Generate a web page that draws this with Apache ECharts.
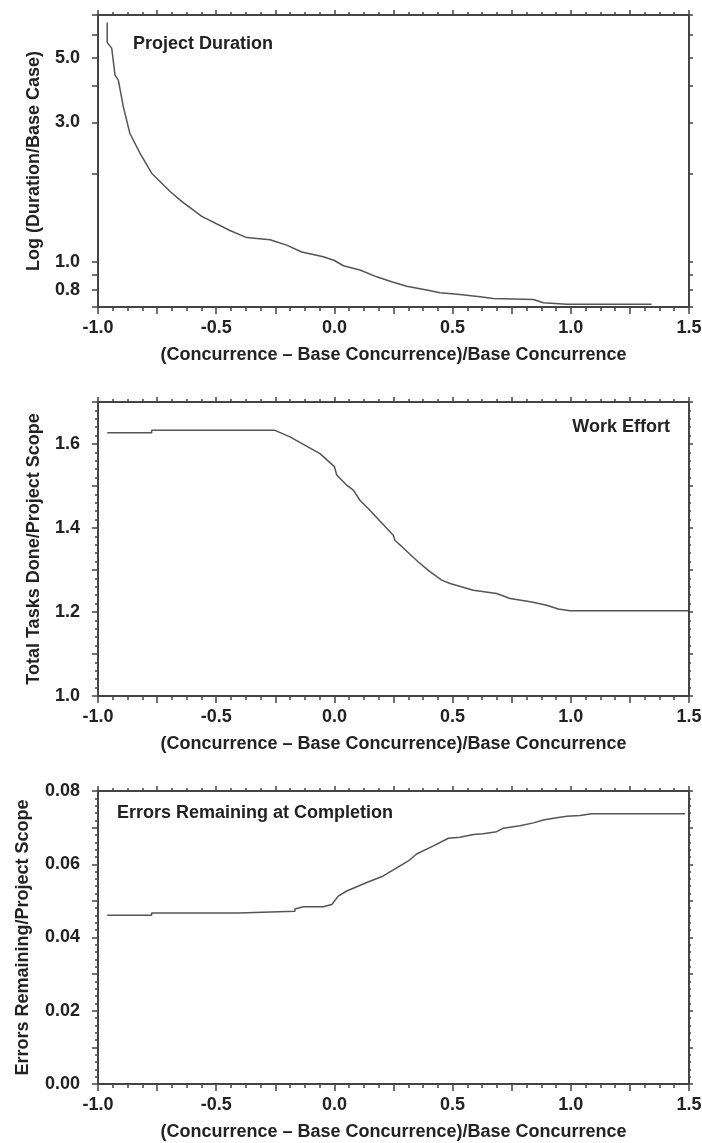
<!DOCTYPE html>
<html>
<head>
<meta charset="utf-8">
<script src="https://cdn.jsdelivr.net/npm/echarts@6/dist/echarts.min.js"></script>
<style>
  html, body { margin: 0; padding: 0; background: #fff; }
  #main { width: 702px; height: 1143px; }
</style>
</head>
<body>
<div id="main"></div>
<script>
// Project Duration (log scale)
var durX = [-0.961, -0.961, -0.942, -0.928, -0.914, -0.893, -0.865, -0.822, -0.773, -0.695, -0.646, -0.561, -0.442, -0.371, -0.272, -0.202, -0.138, -0.047, 0.0, 0.038, 0.108, 0.179, 0.242, 0.306, 0.390, 0.447, 0.531, 0.616, 0.672, 0.842, 0.884, 0.983, 1.342];
var durY = [6.6, 5.63, 5.39, 4.36, 4.19, 3.40, 2.75, 2.35, 2.01, 1.74, 1.61, 1.43, 1.28, 1.21, 1.19, 1.14, 1.08, 1.04, 1.01, 0.969, 0.937, 0.888, 0.854, 0.825, 0.80, 0.783, 0.773, 0.759, 0.749, 0.743, 0.724, 0.716, 0.716];

// Work Effort
var effX = [-0.961, -0.773, -0.773, -0.254, -0.188, -0.061, 0.0, 0.010, 0.052, 0.080, 0.108, 0.144, 0.249, 0.256, 0.355, 0.404, 0.454, 0.489, 0.588, 0.686, 0.743, 0.835, 0.898, 0.947, 0.997, 1.497];
var effY = [1.627, 1.627, 1.633, 1.633, 1.617, 1.577, 1.546, 1.526, 1.502, 1.490, 1.466, 1.446, 1.383, 1.371, 1.319, 1.296, 1.276, 1.268, 1.252, 1.244, 1.232, 1.224, 1.216, 1.207, 1.203, 1.203];

// Errors Remaining at Completion
var errX = [-0.961, -0.773, -0.773, -0.406, -0.406, -0.167, -0.167, -0.131, -0.047, -0.011, 0.0165, 0.052, 0.137, 0.207, 0.313, 0.348, 0.419, 0.482, 0.531, 0.588, 0.630, 0.686, 0.714, 0.785, 0.842, 0.884, 0.933, 0.983, 1.039, 1.088, 1.483];
var errY = [0.0461, 0.0461, 0.0467, 0.0467, 0.0472, 0.0472, 0.0478, 0.0484, 0.0484, 0.0490, 0.0513, 0.0527, 0.0550, 0.0568, 0.0609, 0.0628, 0.0650, 0.0671, 0.0674, 0.0681, 0.0683, 0.0689, 0.0698, 0.0705, 0.0713, 0.0721, 0.0726, 0.0731, 0.0733, 0.0738, 0.0738];

var durLabels = [0.8, 1, 3, 5];
var durTicks = [0.7, 0.8, 0.9, 1, 2, 3, 4, 5, 6, 7];

var xName = '(Concurrence \u2013 Base Concurrence)/Base Concurrence';
var FONT = 'Liberation Sans, Arial, Helvetica, sans-serif';
var AX = '#444';
var TXT = '#222';

function pairs(xs, ys) {
    var out = [];
    for (var i = 0; i < xs.length; i++) {
        out.push([xs[i], ys[i]]);
    }
    return out;
}

var lblStyle = { fontSize: 18, fontWeight: 'bold', color: TXT, fontFamily: FONT };

function xAxes(gi) {
    var bottom = {
        gridIndex: gi, type: 'value', min: -1, max: 1.5, interval: 0.25, position: 'bottom',
        axisLine: { show: true, onZero: false, lineStyle: { color: AX, width: 2 } },
        axisTick: { show: true, inside: false, length: 7, lineStyle: { color: AX, width: 1.5 } },
        minorTick: { show: true, splitNumber: 4, length: 4, lineStyle: { color: AX, width: 1.5 } },
        splitLine: { show: false },
        axisLabel: {
            margin: 12, fontSize: 18, fontWeight: 'bold', color: TXT, fontFamily: FONT,
            formatter: function (v) {
                return Math.abs(v * 2 - Math.round(v * 2)) < 1e-6 ? v.toFixed(1) : '';
            }
        },
        name: xName, nameLocation: 'middle', nameGap: 39,
        nameTextStyle: lblStyle
    };
    var top = {
        gridIndex: gi, type: 'value', min: -1, max: 1.5, interval: 0.25, position: 'top',
        axisLine: { show: true, onZero: false, lineStyle: { color: AX, width: 2 } },
        axisTick: { show: true, inside: false, length: 5, lineStyle: { color: AX, width: 1.5 } },
        minorTick: { show: true, splitNumber: 4, length: 3, lineStyle: { color: AX, width: 1.5 } },
        splitLine: { show: false },
        axisLabel: { show: false }
    };
    return [bottom, top];
}

function yAxes(gi, cfg) {
    var left = {
        gridIndex: gi, type: cfg.type || 'value', min: cfg.min, max: cfg.max, position: 'left',
        axisLine: { show: true, onZero: false, lineStyle: { color: AX, width: 2 } },
        axisTick: { show: true, inside: false, length: 6, lineStyle: { color: AX, width: 1.5 } },
        minorTick: { show: !!cfg.split, splitNumber: cfg.split || 5, length: 3, lineStyle: { color: AX, width: 1.5 } },
        splitLine: { show: false },
        axisLabel: { margin: 18, fontSize: 18, fontWeight: 'bold', color: TXT, fontFamily: FONT, formatter: cfg.fmt },
        name: cfg.name, nameLocation: 'middle', nameGap: cfg.nameGap, nameRotate: 90,
        nameTextStyle: lblStyle
    };
    var right = {
        gridIndex: gi, type: cfg.type || 'value', min: cfg.min, max: cfg.max, position: 'right',
        axisLine: { show: true, onZero: false, lineStyle: { color: AX, width: 2 } },
        axisTick: { show: true, inside: false, length: 4, lineStyle: { color: AX, width: 1.5 } },
        minorTick: { show: !!cfg.split, splitNumber: cfg.split || 5, length: 2, lineStyle: { color: AX, width: 1.5 } },
        splitLine: { show: false },
        axisLabel: { show: false }
    };
    if (cfg.interval) {
        left.interval = cfg.interval;
        right.interval = cfg.interval;
    }
    if (cfg.labelValues) {
        left.axisLabel.customValues = cfg.labelValues;
    }
    if (cfg.tickValues) {
        left.axisTick.customValues = cfg.tickValues;
        right.axisTick.customValues = cfg.tickValues;
    }
    if (cfg.type === 'log') {
        left.logBase = 10;
        right.logBase = 10;
    }
    return [left, right];
}

var myChart = echarts.init(document.getElementById('main'), null, { renderer: 'canvas' });

var xs = [].concat(xAxes(0), xAxes(1), xAxes(2));
var ys = [].concat(
    yAxes(0, {
        type: 'log', min: 0.7, max: 7, name: 'Log (Duration/Base Case)', nameGap: 55,
        labelValues: durLabels, tickValues: durTicks,
        fmt: function (v) { return Number(v).toFixed(1); }
    }),
    yAxes(1, {
        min: 1.0, max: 1.7, interval: 0.1, split: 5, name: 'Total Tasks Done/Project Scope', nameGap: 55,
        fmt: function (v) { return Math.round(v * 10) % 2 === 0 ? v.toFixed(1) : ''; }
    }),
    yAxes(2, {
        min: 0, max: 0.08, interval: 0.01, split: 5, name: 'Errors Remaining/Project Scope', nameGap: 66,
        fmt: function (v) { return Math.round(v * 100) % 2 === 0 ? v.toFixed(2) : ''; }
    })
);

var lineStyle = { color: '#555', width: 1.5 };

var option = {
    animation: false,
    backgroundColor: '#fff',
    title: [
        { text: 'Project Duration', left: 133, top: 35, padding: 0, textStyle: lblStyle },
        { text: 'Work Effort', right: 32, top: 418, padding: 0, textStyle: lblStyle },
        { text: 'Errors Remaining at Completion', left: 117, top: 804, padding: 0, textStyle: lblStyle }
    ],
    grid: [
        { left: 98, right: 13, top: 15, height: 292, outerBoundsMode: 'none', containLabel: false },
        { left: 98, right: 13, top: 402, height: 294, outerBoundsMode: 'none', containLabel: false },
        { left: 98, right: 13, top: 791, height: 293, outerBoundsMode: 'none', containLabel: false }
    ],
    xAxis: xs,
    yAxis: ys,
    series: [
        {
            type: 'line', xAxisIndex: 0, yAxisIndex: 0, data: pairs(durX, durY),
            showSymbol: false, lineStyle: lineStyle, itemStyle: { color: '#555' }
        },
        {
            type: 'line', xAxisIndex: 2, yAxisIndex: 2, data: pairs(effX, effY),
            showSymbol: false, lineStyle: lineStyle, itemStyle: { color: '#555' }
        },
        {
            type: 'line', xAxisIndex: 4, yAxisIndex: 4, data: pairs(errX, errY),
            showSymbol: false, lineStyle: lineStyle, itemStyle: { color: '#555' }
        }
    ]
};

myChart.setOption(option);
</script>
</body>
</html>
